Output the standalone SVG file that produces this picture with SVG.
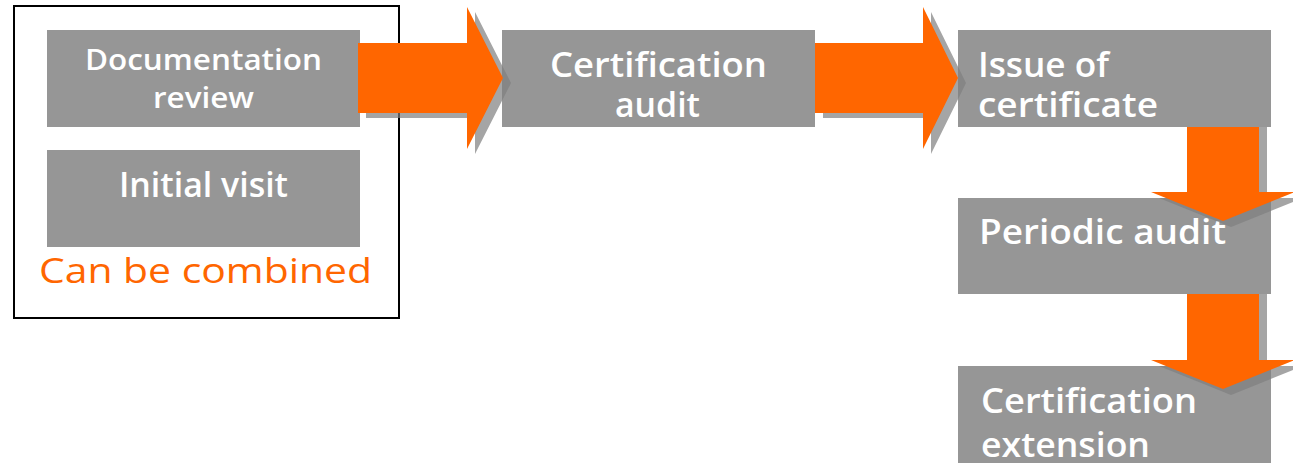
<svg xmlns="http://www.w3.org/2000/svg" width="1293" height="463" viewBox="0 0 1293 463">
<style>
.box{fill:#969696}
.t{fill:#ffffff;font-family:"Open Sans","Liberation Sans",Arial,sans-serif;font-weight:600}
.arrow{fill:#ff6600}
.shadow{fill:#7f7f7f;fill-opacity:0.7}
.orange{fill:#ff6600;font-family:"Open Sans","Liberation Sans",Arial,sans-serif;font-weight:400}
</style>
<rect width="1293" height="463" fill="#ffffff"/>
<g id="group-combined">
<rect x="14" y="6" width="385" height="312" fill="none" stroke="#000000" stroke-width="2"/>
<text class="orange" x="39" y="283" font-size="35" textLength="333" lengthAdjust="spacingAndGlyphs">Can be combined</text>
</g>
<g id="nodes">
<g id="node-documentation-review">
<rect class="box" x="47" y="30" width="313" height="97"/>
<text class="t" x="85" y="70" font-size="28" textLength="237" lengthAdjust="spacingAndGlyphs">Documentation</text>
<text class="t" x="153" y="108" font-size="28" textLength="101" lengthAdjust="spacingAndGlyphs">review</text>
</g>
<g id="node-initial-visit">
<rect class="box" x="47" y="150" width="313" height="97"/>
<text class="t" x="119" y="197" font-size="35" textLength="169" lengthAdjust="spacingAndGlyphs">Initial visit</text>
</g>
<g id="node-certification-audit">
<rect class="box" x="502" y="30" width="313" height="97"/>
<text class="t" x="550" y="77" font-size="35" textLength="217" lengthAdjust="spacingAndGlyphs">Certification</text>
<text class="t" x="615" y="117" font-size="35" textLength="85" lengthAdjust="spacingAndGlyphs">audit</text>
</g>
<g id="node-issue-of-certificate">
<rect class="box" x="958" y="30" width="313" height="97"/>
<text class="t" x="978" y="77" font-size="35" textLength="131" lengthAdjust="spacingAndGlyphs">Issue of</text>
<text class="t" x="978" y="117" font-size="35" textLength="180" lengthAdjust="spacingAndGlyphs">certificate</text>
</g>
<g id="node-periodic-audit">
<rect class="box" x="958" y="198" width="313" height="96"/>
<text class="t" x="979" y="244" font-size="35" textLength="247" lengthAdjust="spacingAndGlyphs">Periodic audit</text>
</g>
<g id="node-certification-extension">
<rect class="box" x="958" y="366" width="313" height="97"/>
<text class="t" x="981" y="413" font-size="35" textLength="216" lengthAdjust="spacingAndGlyphs">Certification</text>
<text class="t" x="981" y="457" font-size="35" textLength="169" lengthAdjust="spacingAndGlyphs">extension</text>
</g>
</g>
<g id="connectors">
<g id="arrow-1">
<polygon class="shadow" points="366,48 475,48 475,12 511,83 475,154 475,118 366,118"/>
<polygon class="arrow" points="358,43 467,43 467,7 503,78 467,149 467,113 358,113"/>
</g>
<g id="arrow-2">
<polygon class="shadow" points="823,48 931,48 931,12 966,83 931,154 931,118 823,118"/>
<polygon class="arrow" points="815,43 923,43 923,7 958,78 923,149 923,113 815,113"/>
</g>
<g id="arrow-3">
<polygon class="shadow" points="1195,127 1267,127 1267,198 1303,198 1231,227 1159,198 1195,198"/>
<polygon class="arrow" points="1187,127 1259,127 1259,192 1295,192 1223,221 1151,192 1187,192"/>
</g>
<g id="arrow-4">
<polygon class="shadow" points="1195,294 1267,294 1267,366 1303,366 1231,395 1159,366 1195,366"/>
<polygon class="arrow" points="1187,294 1259,294 1259,360 1295,360 1223,389 1151,360 1187,360"/>
</g>
</g>
</svg>
